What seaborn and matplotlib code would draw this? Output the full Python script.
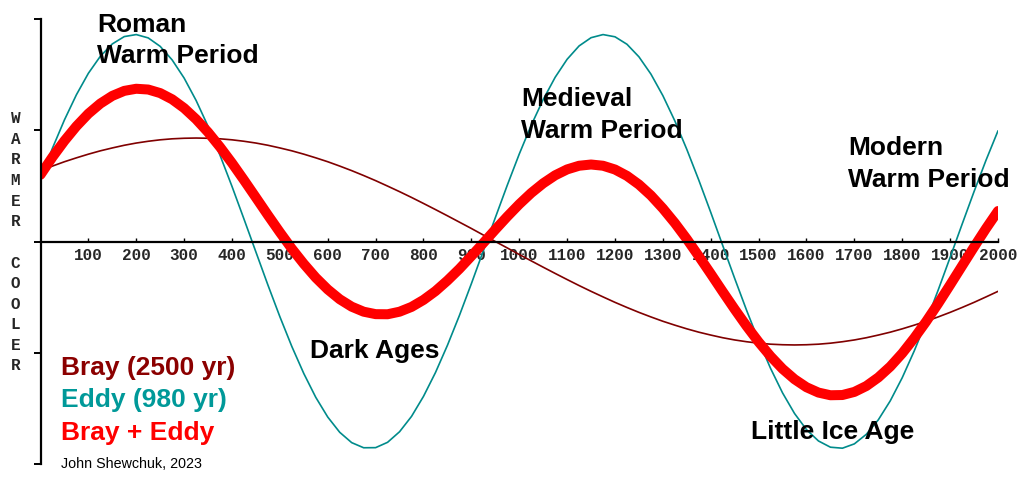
"""
plot.py
Bray (2500 yr) and Eddy (980 yr) climate cycles and their combination.
"""
import matplotlib
matplotlib.use("Agg")
import matplotlib.pyplot as plt
import seaborn as sns

# Years sampled every 25 years, 0 .. 2000
years = list(range(0, 2001, 25))

# Values (zero line = 0, small y ticks at +-1 and +-2)
bray = [0.637, 0.678, 0.717, 0.752, 0.785, 0.815, 0.841, 0.865, 0.885, 0.901,
        0.914, 0.923, 0.928, 0.930, 0.928, 0.923, 0.914, 0.901, 0.885, 0.865,
        0.841, 0.815, 0.785, 0.752, 0.717, 0.678, 0.637, 0.593, 0.547, 0.498,
        0.448, 0.396, 0.342, 0.287, 0.231, 0.174, 0.117, 0.058, 0.000, -0.058,
        -0.117, -0.174, -0.231, -0.287, -0.342, -0.396, -0.448, -0.498, -0.547, -0.593,
        -0.637, -0.678, -0.717, -0.752, -0.785, -0.815, -0.841, -0.865, -0.885, -0.901,
        -0.914, -0.923, -0.928, -0.930, -0.928, -0.923, -0.914, -0.901, -0.885, -0.865,
        -0.841, -0.815, -0.785, -0.752, -0.717, -0.678, -0.637, -0.593, -0.547, -0.498,
        -0.448]

eddy = [0.563, 0.839, 1.093, 1.319, 1.512, 1.665, 1.776, 1.842, 1.860, 1.830,
        1.754, 1.632, 1.469, 1.268, 1.035, 0.775, 0.495, 0.202, -0.095, -0.391,
        -0.676, -0.944, -1.187, -1.401, -1.578, -1.715, -1.808, -1.854, -1.853, -1.805,
        -1.710, -1.572, -1.392, -1.178, -0.933, -0.665, -0.379, -0.083, 0.214, 0.506,
        0.786, 1.045, 1.276, 1.476, 1.638, 1.758, 1.832, 1.860, 1.840, 1.773,
        1.660, 1.505, 1.311, 1.084, 0.828, 0.552, 0.262, -0.036, -0.332, -0.620,
        -0.892, -1.141, -1.361, -1.546, -1.691, -1.793, -1.849, -1.858, -1.819, -1.733,
        -1.603, -1.432, -1.224, -0.984, -0.720, -0.437, -0.143, 0.155, 0.449, 0.731,
        0.995]

combined = [0.600, 0.759, 0.905, 1.036, 1.149, 1.240, 1.309, 1.354, 1.373, 1.366,
            1.334, 1.278, 1.199, 1.099, 0.982, 0.849, 0.705, 0.552, 0.395, 0.237,
            0.083, -0.065, -0.201, -0.325, -0.431, -0.519, -0.586, -0.631, -0.653, -0.654,
            -0.631, -0.588, -0.525, -0.446, -0.351, -0.246, -0.131, -0.013, 0.107, 0.224,
            0.335, 0.436, 0.523, 0.595, 0.648, 0.681, 0.692, 0.681, 0.647, 0.590,
            0.512, 0.414, 0.297, 0.166, 0.022, -0.132, -0.290, -0.451, -0.609, -0.761,
            -0.903, -1.032, -1.145, -1.238, -1.310, -1.358, -1.382, -1.380, -1.352, -1.299,
            -1.222, -1.124, -1.005, -0.868, -0.719, -0.558, -0.390, -0.219, -0.049, 0.117,
            0.274]

x_ticks = list(range(100, 2001, 100))

# period labels: (first line, second line)
annotations = [
    ("Roman", "Warm Period"),
    ("Medieval", "Warm Period"),
    ("Modern", "Warm Period"),
    ("Dark Ages", None),
    ("Little Ice Age", None),
]
legend_labels = ["Bray (2500 yr)", "Eddy (980 yr)", "Bray + Eddy"]
credit = "John Shewchuk, 2023"

BRAY_LINE = "#800000"
EDDY_LINE = "#008b8b"
SUM_LINE = "#ff0000"
BRAY_TEXT = "#8b0000"
EDDY_TEXT = "#009999"

sns.set_style("white")
plt.rcParams["font.family"] = ["Liberation Sans", "DejaVu Sans"]

W, H = 1032, 483
fig = plt.figure(figsize=(W / 100, H / 100), dpi=100)

# axes placed so that x=0 sits on the vertical axis and +-2 at the end ticks
left, right = 40.5, 998
top, bottom = 19, 464
ax = fig.add_axes([left / W, 1 - bottom / H, (right - left) / W, (bottom - top) / H])

sns.lineplot(x=years, y=bray, ax=ax, color=BRAY_LINE, linewidth=1.2)
sns.lineplot(x=years, y=eddy, ax=ax, color=EDDY_LINE, linewidth=1.2)
sns.lineplot(x=years, y=combined, ax=ax, color=SUM_LINE, linewidth=7.2,
             solid_capstyle="round")

ax.set_xlim(0, 2000)
ax.set_ylim(-2, 2)
for s in ["top", "right"]:
    ax.spines[s].set_visible(False)
ax.spines["bottom"].set_position(("data", 0))
ax.spines["left"].set_linewidth(1.6)
ax.spines["bottom"].set_linewidth(1.6)
ax.spines["left"].set_color("black")
ax.spines["bottom"].set_color("black")

ax.set_yticks([-2, -1, 0, 1, 2])
ax.set_yticklabels([])
ax.tick_params(axis="y", direction="out", length=5, width=1.4, color="black", left=True)

ax.set_xticks(x_ticks)
ax.set_xticklabels([str(t) for t in x_ticks], family=["Liberation Mono", "DejaVu Sans Mono"],
                   fontweight="bold", fontsize=11.5)
ax.tick_params(axis="x", direction="in", length=3, width=1.0, color="black",
               bottom=True, pad=5)
ax.set_xlabel("")
ax.set_ylabel("")


def ftext(x, y, s, **kw):
    # x, y in picture pixels, y measured from the top
    fig.text(x / W, 1 - y / H, s, **kw)


# vertical WARMER / COOLER letters
mono = dict(family=["Liberation Mono", "DejaVu Sans Mono"], fontweight="bold",
            fontsize=11.5, ha="center", va="baseline")
for i, ch in enumerate("WARMER"):
    ftext(15.5, 123 + i * 20.7, ch, **mono)
for i, ch in enumerate("COOLER"):
    ftext(15.5, 267.5 + i * 20.6, ch, **mono)

big = dict(fontsize=19, fontweight="bold", ha="left", va="baseline", color="black")
ann_pos = [(97, 32, 63), (521, 106, 138), (848, 155, 187), (310, 358, None), (751, 439, None)]
for (l1, l2), (x, y1, y2) in zip(annotations, ann_pos):
    ftext(x, y1, l1, **big)
    if l2:
        ftext(x, y2, l2, **big)

leg_colors = [BRAY_TEXT, EDDY_TEXT, SUM_LINE]
leg_y = [375, 407, 440]
for lab, c, y in zip(legend_labels, leg_colors, leg_y):
    ftext(61, y, lab, fontsize=19, fontweight="bold", color=c, ha="left", va="baseline")

ftext(61, 468, credit, fontsize=10.3, color="black", ha="left", va="baseline")

fig.savefig("out.png", dpi=100)
